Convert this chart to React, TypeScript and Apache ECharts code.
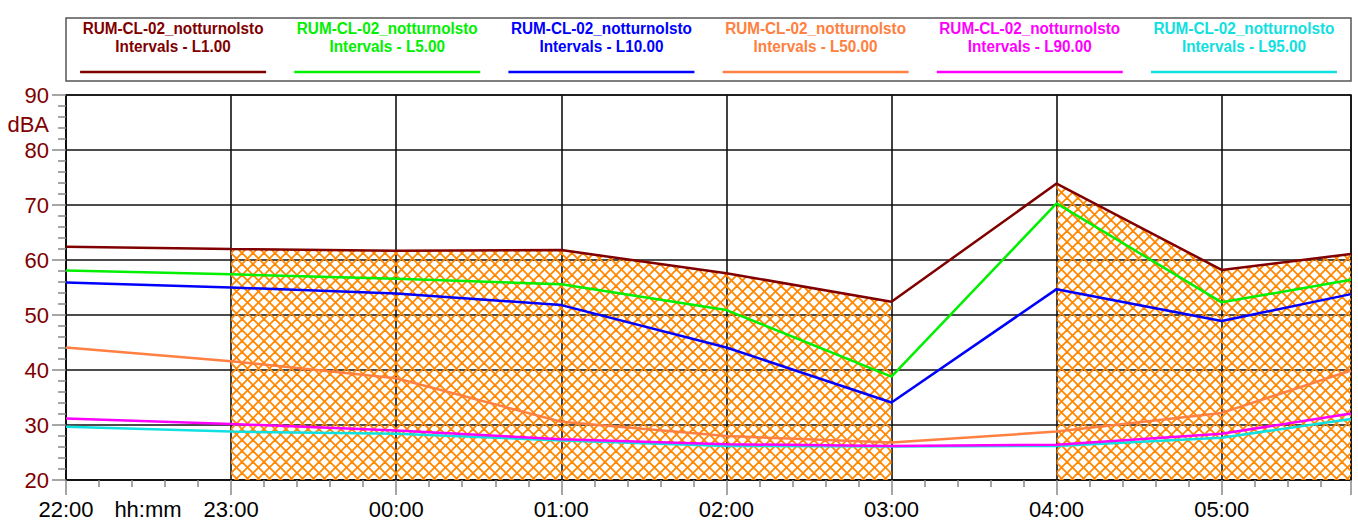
import React, { useEffect, useRef } from "react";
import * as echarts from "echarts";

// minutes after 22:00
const minutes = [0, 60, 120, 180, 240, 300, 360, 420, 467];
const timeLabels = ["22:00", "23:00", "00:00", "01:00", "02:00", "03:00", "04:00", "05:00"];

const L1 = [62.4, 62.0, 61.7, 61.8, 57.6, 52.4, 73.9, 58.2, 61.1];
const L5 = [58.1, 57.4, 56.6, 55.6, 50.9, 38.8, 70.3, 52.3, 56.4];
const L10 = [55.9, 55.0, 53.9, 51.8, 44.1, 34.1, 54.7, 48.9, 53.8];
const L50 = [44.1, 41.6, 38.5, 30.6, 28.0, 26.8, 28.8, 32.2, 39.9];
const L90 = [31.2, 30.2, 29.0, 27.4, 26.5, 26.2, 26.4, 28.4, 32.1];
const L95 = [29.7, 28.8, 28.4, 27.2, 26.2, 26.1, 26.2, 27.7, 31.1];

const seriesNames = ["L1.00", "L5.00", "L10.00", "L50.00", "L90.00", "L95.00"];
const seriesValues = [L1, L5, L10, L50, L90, L95];
const seriesColors = ["#800000", "#00F000", "#0000FF", "#FF8040", "#FF00FF", "#10E0E0"];
const namePrefix = "RUM-CL-02_notturnolsto";

// hatched periods (minutes after 22:00)
const hatchRanges = [
  [60, 300],
  [360, 467],
];

const yTicks = [20, 30, 40, 50, 60, 70, 80, 90];

function makePattern(): HTMLCanvasElement {
  const s = 11;
  const c = document.createElement("canvas");
  c.width = s;
  c.height = s;
  const ctx = c.getContext("2d")!;
  ctx.strokeStyle = "#FF8800";
  ctx.lineWidth = 1.8;
  for (const dx of [-s, 0, s]) {
    ctx.beginPath();
    ctx.moveTo(dx, 0);
    ctx.lineTo(dx + s, s);
    ctx.stroke();
    ctx.beginPath();
    ctx.moveTo(dx + s, 0);
    ctx.lineTo(dx, s);
    ctx.stroke();
  }
  return c;
}

function rangeIndex(m: number): number {
  for (let i = 0; i < hatchRanges.length; i++) {
    if (m >= hatchRanges[i][0] && m <= hatchRanges[i][1]) return i;
  }
  return -1;
}

function buildHatchData() {
  const out: any[] = [];
  let prev = -2;
  for (let i = 0; i < minutes.length; i++) {
    const r = rangeIndex(minutes[i]);
    if (r >= 0 && prev >= 0 && r !== prev) {
      out.push([(minutes[i] + minutes[i - 1]) / 2, null]);
    }
    out.push([minutes[i], r >= 0 ? L1[i] : null]);
    prev = r;
  }
  return out;
}

export default function App() {
  const ref = useRef<HTMLDivElement>(null);
  useEffect(() => {
    document.body.style.margin = "0";
    const chart = echarts.init(ref.current!, null, { renderer: "svg" });
    const font = "'Liberation Sans', Arial, sans-serif";
    const left = 66;
    const right = 1351;
    const colW = (right - left) / seriesNames.length;

    const graphics: any[] = [
      {
        type: "rect",
        shape: { x: left, y: 18, width: right - left, height: 63 },
        style: { fill: "#fff", stroke: "#555", lineWidth: 1.5 },
        z: 0,
      },
      {
        type: "text",
        x: 49,
        y: 124,
        style: {
          text: "dBA",
          fill: "#800000",
          font: `22px ${font}`,
          textAlign: "right",
          textVerticalAlign: "middle",
        },
      },
      {
        type: "text",
        x: 148,
        y: 509,
        style: {
          text: "hh:mm",
          fill: "#000",
          font: `22px ${font}`,
          textAlign: "center",
          textVerticalAlign: "middle",
        },
      },
    ];
    seriesNames.forEach((n, i) => {
      const cx = left + colW * (i + 0.5);
      graphics.push({
        type: "text",
        x: cx,
        y: 27.5,
        scaleX: 0.9,
        style: {
          text: namePrefix,
          fill: seriesColors[i],
          font: `bold 17px ${font}`,
          textAlign: "center",
          textVerticalAlign: "middle",
        },
      });
      graphics.push({
        type: "text",
        x: cx,
        y: 45.8,
        scaleX: 0.9,
        style: {
          text: "Intervals - " + n,
          fill: seriesColors[i],
          font: `bold 17px ${font}`,
          textAlign: "center",
          textVerticalAlign: "middle",
        },
      });
      graphics.push({
        type: "line",
        shape: { x1: cx - 93, y1: 72, x2: cx + 93, y2: 72 },
        style: { stroke: seriesColors[i], lineWidth: 2.5 },
      });
    });

    const series: any[] = [
      {
        name: "hatch",
        type: "line",
        data: buildHatchData(),
        symbol: "none",
        connectNulls: false,
        lineStyle: { width: 0, opacity: 0 },
        areaStyle: {
          origin: "start",
          opacity: 1,
          color: { image: makePattern(), repeat: "repeat" },
        },
        silent: true,
        z: 1,
      },
    ];
    seriesNames.forEach((n, i) => {
      series.push({
        name: namePrefix + " Intervals - " + n,
        type: "line",
        data: minutes.map((m, j) => [m, seriesValues[i][j]]),
        symbol: "none",
        lineStyle: { color: seriesColors[i], width: 2.5 },
        itemStyle: { color: seriesColors[i] },
        z: 3 + (seriesNames.length - i),
      });
    });

    chart.setOption({
      animation: false,
      backgroundColor: "#fff",
      textStyle: { fontFamily: font },
      grid: {
        left: left,
        right: 1358 - right,
        top: 95,
        bottom: 48,
        show: true,
        borderColor: "#111",
        borderWidth: 1.6,
      },
      xAxis: {
        type: "value",
        min: 0,
        max: minutes[minutes.length - 1],
        interval: 60,
        axisLine: { show: true, lineStyle: { color: "#111", width: 1.6 } },
        axisTick: { show: true, length: 15, lineStyle: { color: "#888", width: 1.5 } },
        minorTick: { show: true, splitNumber: 5, length: 7, lineStyle: { color: "#888", width: 1.5 } },
        splitLine: { show: true, lineStyle: { color: "#111", width: 1.6 } },
        axisLabel: {
          color: "#000",
          fontSize: 22,
          fontFamily: font,
          margin: 18,
          showMaxLabel: false,
          formatter: (v: number) => (v % 60 === 0 ? timeLabels[v / 60] ?? "" : ""),
        },
      },
      yAxis: {
        type: "value",
        min: yTicks[0],
        max: yTicks[yTicks.length - 1],
        interval: 10,
        axisLine: { show: true, lineStyle: { color: "#111", width: 1.6 } },
        axisTick: { show: true, length: 14, lineStyle: { color: "#888", width: 1.5 } },
        minorTick: { show: true, splitNumber: 5, length: 8, lineStyle: { color: "#888", width: 1.5 } },
        splitLine: { show: true, lineStyle: { color: "#111", width: 1.6 } },
        axisLabel: {
          color: "#800000",
          fontSize: 22,
          fontFamily: font,
          margin: 17,
        },
      },
      graphic: graphics,
      series,
    });
    return () => chart.dispose();
  }, []);
  return (
    <div
      ref={ref}
      style={{ position: "fixed", left: 0, top: 0, width: 1358, height: 528 }}
    />
  );
}
